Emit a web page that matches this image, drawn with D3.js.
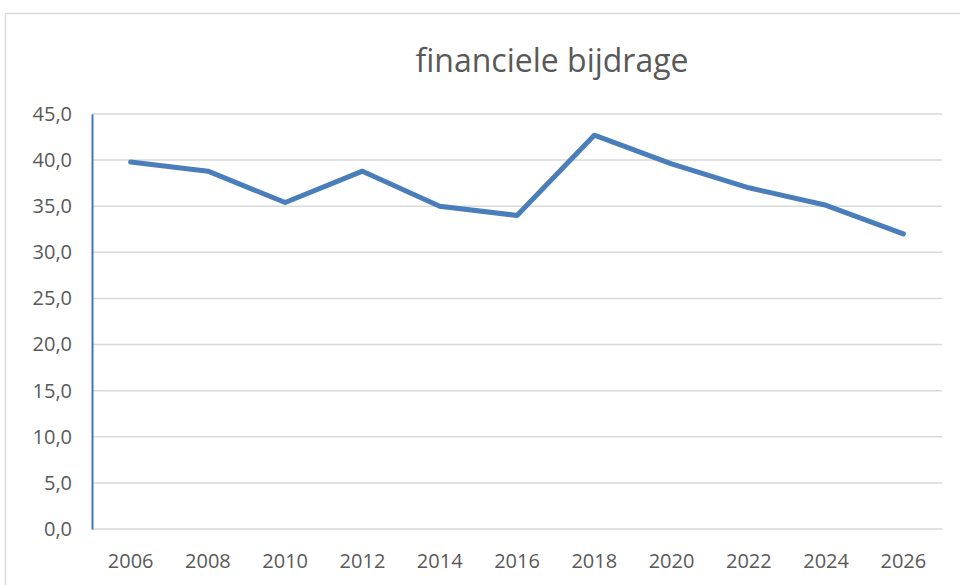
<!DOCTYPE html>
<html>
<head>
<meta charset="utf-8">
<script src="https://cdn.jsdelivr.net/npm/d3@7"></script>
<style>
  body { margin: 0; background: #fff; }
  text { font-family: "Open Sans", "Noto Sans", sans-serif; }
</style>
</head>
<body>
<div id="chart"></div>
<script>
// data
var years = ["2006", "2008", "2010", "2012", "2014", "2016", "2018", "2020", "2022", "2024", "2026"]
var bijdrage = [39.8, 38.8, 35.4, 38.8, 35.0, 34.0, 42.7, 39.6, 37.0, 35.1, 32.0]
var yTicks = [0, 5, 10, 15, 20, 25, 30, 35, 40, 45]

var width = 960,
    height = 585,
    margin = { top: 114, right: 18, bottom: 56, left: 92 }

var svg = d3.select("#chart").append("svg")
  .attr("width", width)
  .attr("height", height)

// chart border
svg.append("rect")
  .attr("x", 5.5).attr("y", 13.5)
  .attr("width", 1200).attr("height", 1200)
  .attr("fill", "none")
  .attr("stroke", "#d9d9d9")
  .attr("stroke-width", 1.5)

var x = d3.scaleBand()
  .domain(years)
  .range([margin.left, width - margin.right])

var y = d3.scaleLinear()
  .domain([0, 45])
  .range([height - margin.bottom, margin.top])

// gridlines
svg.append("g")
  .selectAll("line")
  .data(yTicks)
  .enter().append("line")
    .attr("x1", margin.left)
    .attr("x2", width - margin.right)
    .attr("y1", d => y(d))
    .attr("y2", d => y(d))
    .attr("stroke", "#d9d9d9")
    .attr("stroke-width", 1.5)

// y axis
var yAxis = svg.append("g")
  .attr("transform", `translate(${margin.left},0)`)
  .call(d3.axisLeft(y).tickValues(yTicks).tickSize(0).tickPadding(20)
    .tickFormat(d => d3.format(".1f")(d).replace(".", ",")))
yAxis.select(".domain")
  .attr("stroke", "#4472c4")
  .attr("stroke-width", 2)
yAxis.selectAll("text")
  .attr("fill", "#595959")
  .style("font-size", "20px")

// x axis
var xAxis = svg.append("g")
  .attr("transform", `translate(0,${height - margin.bottom})`)
  .call(d3.axisBottom(x).tickSize(0).tickPadding(25))
xAxis.select(".domain").remove()
xAxis.selectAll("text")
  .attr("fill", "#595959")
  .style("font-size", "20px")

// line
var line = d3.line()
  .x((d, i) => x(years[i]) + x.bandwidth() / 2)
  .y(d => y(d))

svg.append("path")
  .datum(bijdrage)
  .attr("d", line)
  .attr("fill", "none")
  .attr("stroke", "#4a7ebb")
  .attr("stroke-width", 5)
  .attr("stroke-linecap", "round")
  .attr("stroke-linejoin", "round")

// title
svg.append("text")
  .attr("x", 552)
  .attr("y", 72)
  .attr("text-anchor", "middle")
  .attr("fill", "#595959")
  .style("font-size", "32px")
  .text("financiele bijdrage")
</script>
</body>
</html>
